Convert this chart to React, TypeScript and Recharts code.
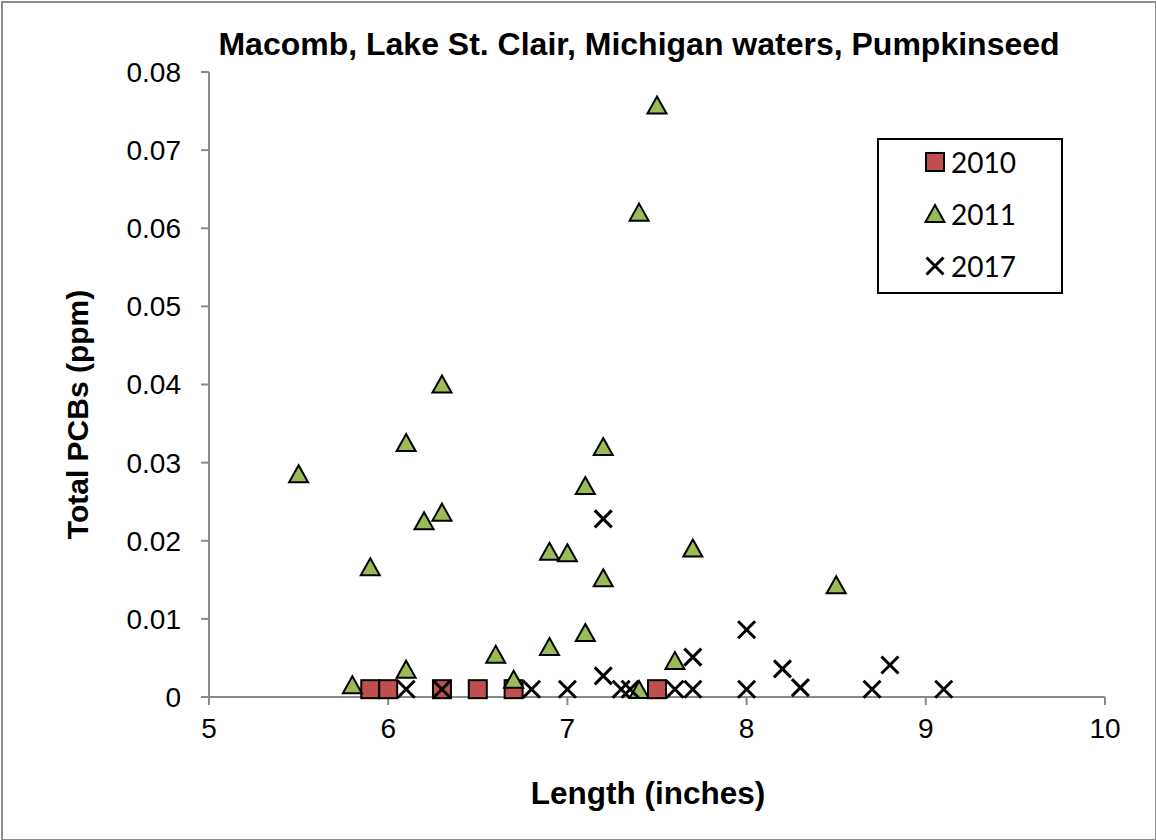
import React from "react";
import { ScatterChart, Scatter, XAxis, YAxis } from "recharts";

const xTicks = [5, 6, 7, 8, 9, 10];
const yTicks = [0, 0.01, 0.02, 0.03, 0.04, 0.05, 0.06, 0.07, 0.08];

const len2010 = [5.9, 6.0, 6.3, 6.5, 6.7, 7.5];
const pcb2010 = [0.001, 0.001, 0.001, 0.001, 0.001, 0.001];

const len2011 = [
  5.5, 5.8, 5.9, 6.1, 6.1, 6.2, 6.3, 6.3, 6.6, 6.7, 6.9, 6.9, 7.0, 7.1, 7.1,
  7.2, 7.2, 7.4, 7.4, 7.5, 7.6, 7.7, 8.5,
];
const pcb2011 = [
  0.0285, 0.0015, 0.0166, 0.0325, 0.0035, 0.0225, 0.04, 0.0236, 0.0054, 0.0022,
  0.0186, 0.0064, 0.0184, 0.0082, 0.027, 0.032, 0.0152, 0.062, 0.0009, 0.0757,
  0.0046, 0.019, 0.0143,
];

const len2017 = [
  6.1, 6.3, 6.8, 7.0, 7.2, 7.2, 7.3, 7.35, 7.6, 7.7, 7.7, 8.0, 8.0, 8.2, 8.3,
  8.7, 8.8, 9.1,
];
const pcb2017 = [
  0.001, 0.001, 0.001, 0.001, 0.0228, 0.0027, 0.001, 0.001, 0.001, 0.001,
  0.0051, 0.0086, 0.001, 0.0036, 0.0012, 0.001, 0.0041, 0.001,
];

const toPoints = (xs: number[], ys: number[]) =>
  xs.map((x, i) => ({ x, y: ys[i] }));

const RED = "#C0504D";
const GREEN = "#9BBB59";
const AXIS = "#898989";
const FONT = "'Liberation Sans', Arial, sans-serif";

const Square = ({ cx, cy }: any) => (
  <rect x={cx - 9} y={cy - 9} width={18} height={18} fill={RED} stroke="#000" strokeWidth={2} />
);

const Triangle = ({ cx, cy }: any) => (
  <polygon
    points={`${cx},${cy - 9} ${cx + 9.5},${cy + 8} ${cx - 9.5},${cy + 8}`}
    fill={GREEN}
    stroke="#000"
    strokeWidth={2}
  />
);

const Cross = ({ cx, cy }: any) => (
  <g stroke="#000" strokeWidth={3}>
    <line x1={cx - 8.5} y1={cy - 8.5} x2={cx + 8.5} y2={cy + 8.5} />
    <line x1={cx - 8.5} y1={cy + 8.5} x2={cx + 8.5} y2={cy - 8.5} />
  </g>
);

// axis titles
const YTitle = ({ viewBox }: any) => {
  const cx = 77;
  const cy = viewBox.y + viewBox.height / 2 + 30;
  return (
    <text
      x={cx}
      y={cy}
      transform={`rotate(-90 ${cx} ${cy})`}
      textAnchor="middle"
      dominantBaseline="central"
      fontFamily={FONT}
      fontWeight="bold"
      fontSize={30}
      fill="#000"
    >
      Total PCBs (ppm)
    </text>
  );
};

const XTitle = ({ viewBox }: any) => (
  <text
    x={viewBox.x + viewBox.width / 2 - 9}
    y={793}
    textAnchor="middle"
    dominantBaseline="central"
    fontFamily={FONT}
    fontWeight="bold"
    fontSize={31.5}
    fill="#000"
  >
    Length (inches)
  </text>
);

const legendItems = [
  { name: "2010", Icon: Square },
  { name: "2011", Icon: Triangle },
  { name: "2017", Icon: Cross },
];

const tickStyle = { fontFamily: FONT, fontSize: 28, fill: "#000" };

export default function App() {
  return (
    <div
      style={{
        position: "absolute",
        left: 0,
        top: 0,
        width: 1156,
        height: 840,
        background: "#fff",
      }}
    >
      <div
        style={{
          position: "absolute",
          left: 1,
          top: 1,
          width: 1152,
          height: 836,
          border: "2px solid #8c8c8c",
        }}
      />
      <div
        style={{
          position: "absolute",
          left: 0,
          width: 1278,
          top: 25,
          textAlign: "center",
          fontFamily: FONT,
          fontWeight: "bold",
          fontSize: 32,
          lineHeight: "38px",
          color: "#000",
        }}
      >
        Macomb, Lake St. Clair, Michigan waters, Pumpkinseed
      </div>
      <ScatterChart
        width={1156}
        height={840}
        margin={{ top: 72, right: 51, bottom: 113, left: 0 }}
        style={{ position: "absolute", left: 0, top: 0 }}
      >
        <XAxis
          type="number"
          dataKey="x"
          domain={[5, 10]}
          ticks={xTicks}
          height={30}
          stroke={AXIS}
          strokeWidth={2}
          tickSize={8}
          tickMargin={13}
          tick={tickStyle}
          label={<XTitle />}
        />
        <YAxis
          type="number"
          dataKey="y"
          domain={[0, 0.08]}
          ticks={yTicks}
          width={209}
          stroke={AXIS}
          strokeWidth={2}
          tickSize={8}
          tickMargin={20}
          tick={tickStyle}
          label={<YTitle />}
        />
        <Scatter data={toPoints(len2010, pcb2010)} shape={Square} isAnimationActive={false} />
        <Scatter data={toPoints(len2011, pcb2011)} shape={Triangle} isAnimationActive={false} />
        <Scatter data={toPoints(len2017, pcb2017)} shape={Cross} isAnimationActive={false} />
      </ScatterChart>
      <div
        style={{
          position: "absolute",
          left: 877,
          top: 138,
          width: 186,
          height: 156,
          boxSizing: "border-box",
          border: "2px solid #000",
          background: "#fff",
        }}
      >
        {legendItems.map(({ name, Icon }, i) => (
          <div
            key={name}
            style={{
              position: "absolute",
              left: 44,
              top: 7 + i * 52,
              height: 30,
              display: "flex",
              alignItems: "center",
            }}
          >
            <svg width={24} height={24} style={{ marginRight: 4 }}>
              <Icon cx={12} cy={12} />
            </svg>
            <span style={{ fontFamily: "Lato, 'Open Sans', sans-serif", fontSize: 28, color: "#000" }}>
              {name}
            </span>
          </div>
        ))}
      </div>
    </div>
  );
}
